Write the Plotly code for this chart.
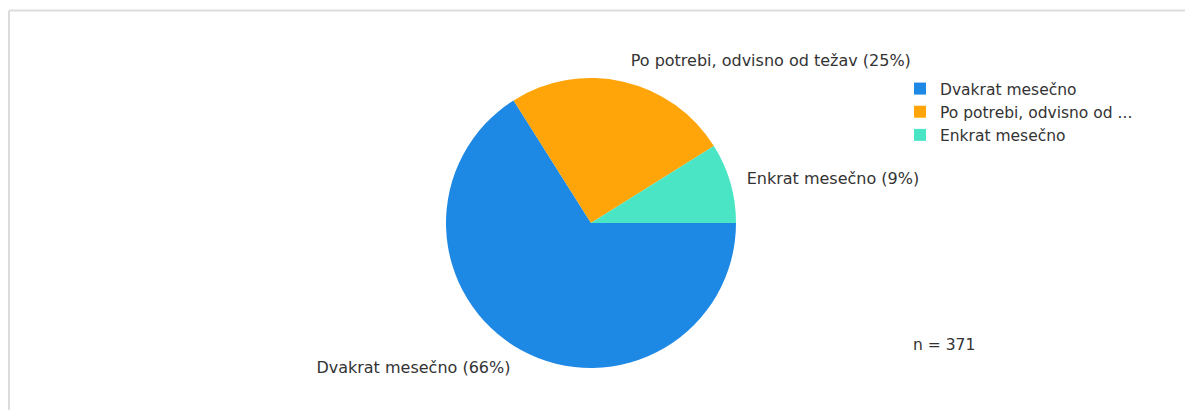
import plotly.graph_objects as go

# Data
legend_labels = ["Dvakrat mesečno", "Po potrebi, odvisno od ...", "Enkrat mesečno"]
full_labels = ["Dvakrat mesečno", "Po potrebi, odvisno od težav", "Enkrat mesečno"]
counts = [245, 93, 33]
colors = ["#1E88E5", "#FFA50A", "#4AE5C4"]
n_total = 371

W, H = 1193, 410
cx, cy, r = 583, 215, 145
r_lab = r + 12  # radius of the invisible pie that carries the outside labels
FONT = "DejaVu Sans"
TXT = "#333333"


def dom(rad):
    return dict(x=[(cx - rad) / W, (cx + rad) / W], y=[(H - cy - rad) / H, (H - cy + rad) / H])


fig = go.Figure()
fig.add_trace(go.Pie(
    labels=legend_labels,
    values=counts,
    textinfo="none",
    marker=dict(colors=colors, line=dict(width=0)),
    sort=False,
    direction="clockwise",
    rotation=90,
    hoverinfo="skip",
    domain=dom(r),
))
fig.add_trace(go.Pie(
    labels=legend_labels,
    values=counts,
    text=full_labels,
    texttemplate="%{text} (%{percent:.0%})",
    textposition="outside",
    textfont=dict(family=FONT, size=16, color=TXT),
    marker=dict(colors=["rgba(0,0,0,0)"] * len(counts), line=dict(width=0)),
    sort=False,
    direction="clockwise",
    rotation=90,
    hoverinfo="skip",
    showlegend=False,
    domain=dom(r_lab),
))

fig.update_layout(
    width=W, height=H,
    margin=dict(l=0, r=0, t=0, b=0),
    paper_bgcolor="white",
    plot_bgcolor="white",
    font=dict(family=FONT, size=15.5, color=TXT),
    legend=dict(x=892 / W, y=1 - 64 / H, xanchor="left", yanchor="top",
                font=dict(family=FONT, size=15.5, color=TXT),
                bgcolor="rgba(0,0,0,0)"),
    shapes=[
        dict(type="line", xref="paper", yref="paper", x0=1 / W, x1=1.01, y0=1 - 2.5 / H, y1=1 - 2.5 / H,
             line=dict(color="#dcdcdc", width=2)),
        dict(type="line", xref="paper", yref="paper", x0=1 / W, x1=1 / W, y0=1 - 2.5 / H, y1=-0.01,
             line=dict(color="#dcdcdc", width=2)),
    ],
    annotations=[
        dict(text=f"n = {n_total}", x=903 / W, y=(H - 337) / H, xref="paper", yref="paper",
             xanchor="left", yanchor="middle", showarrow=False,
             font=dict(family=FONT, size=15.5, color=TXT)),
    ],
)

fig.write_html("out.html")
